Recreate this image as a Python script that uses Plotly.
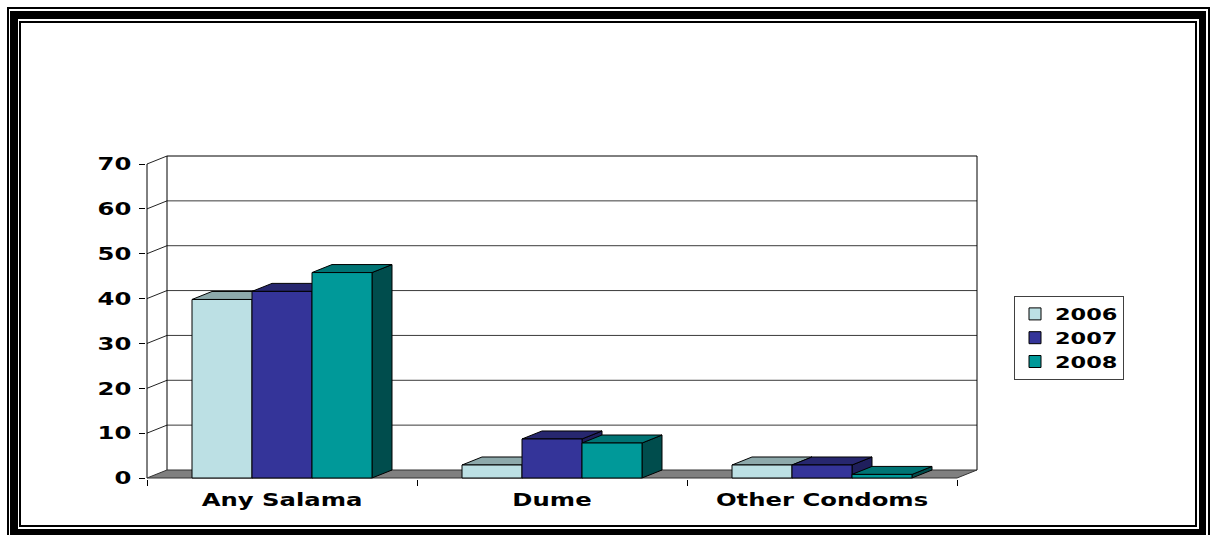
import plotly.graph_objects as go

# ---------------- data ----------------
categories = ["Any Salama", "Dume", "Other Condoms"]
years = ["2006", "2007", "2008"]
values_2006 = [39.8, 2.9, 2.9]
values_2007 = [41.6, 8.7, 2.9]
values_2008 = [45.8, 7.8, 0.8]
y_ticks = [0, 10, 20, 30, 40, 50, 60, 70]

series = [values_2006, values_2007, values_2008]

# ---------------- styling / geometry ----------------
front_colors = ["#BCE0E4", "#343499", "#009999"]
top_colors = ["#8DA9AB", "#27276F", "#007474"]
side_colors = ["#6E8587", "#1F1F5C", "#004D4D"]

W, H = 1211, 535
ML, MR, MT, MB = 146, 233, 150, 56
PW = W - ML - MR
PH = H - MT - MB
PX_X = 270.0            # pixels per category
PX_Y = 314.0 / 70.0     # pixels per value unit
X0_PX, Y0_PX = 147, 478 # pixel position of the front-left floor corner
xmin = -0.5 - (X0_PX - ML) / PX_X
xmax = xmin + PW / PX_X
ymin = -((H - MB) - Y0_PX) / PX_Y
ymax = ymin + PH / PX_Y
DX = 20.0 / PX_X        # depth offset (x)
DY = 8.0 / PX_Y         # depth offset (y)

BARGAP = 1.0 / 3.0
xs = list(range(len(categories)))
left = xs[0] - 0.5
right = xs[-1] + 0.5
ytop = y_ticks[-1]
FONT = dict(family="DejaVu Sans", size=18, color="black", weight="bold")
LFONT = dict(family="DejaVu Sans", size=16, color="black", weight="bold")

fig = go.Figure()

# ---------------- walls, floor, gridlines ----------------
gx, gy = [], []
for v in y_ticks[1:-1]:
    gx += [left + DX, right + DX, None]
    gy += [v + DY, v + DY, None]
fig.add_trace(go.Scatter(x=gx, y=gy, mode="lines", line=dict(color="#3a3a3a", width=1),
                         hoverinfo="skip", showlegend=False, zorder=-20))

sx, sy = [], []
for v in y_ticks[1:]:
    sx += [left, left + DX, None]
    sy += [v, v + DY, None]
fig.add_trace(go.Scatter(x=sx, y=sy, mode="lines", line=dict(color="#222222", width=1),
                         hoverinfo="skip", showlegend=False, zorder=-20))

# back wall outline + front axis line
fig.add_trace(go.Scatter(
    x=[left + DX, left + DX, right + DX, right + DX, None, left, left],
    y=[DY, ytop + DY, ytop + DY, DY, None, 0, ytop],
    mode="lines", line=dict(color="black", width=1),
    hoverinfo="skip", showlegend=False, zorder=-19))

# floor
fig.add_trace(go.Scatter(
    x=[left, right, right + DX, left + DX, left],
    y=[0, 0, DY, DY, 0],
    mode="lines", fill="toself", fillcolor="#808080",
    line=dict(color="#333333", width=1),
    hoverinfo="skip", showlegend=False, zorder=-18))

# ---------------- bars with 3D faces ----------------
gw = 1.0 - BARGAP
bw = gw / len(series)
for k, vals in enumerate(series):
    off = -gw / 2 + k * bw
    tx, ty, px_, py_ = [], [], [], []
    for c, v in zip(xs, vals):
        x0 = c + off
        x1 = x0 + bw
        tx += [x0, x1, x1 + DX, x0 + DX, x0, None]
        ty += [v, v, v + DY, v + DY, v, None]
        px_ += [x1, x1 + DX, x1 + DX, x1, x1, None]
        py_ += [0, DY, v + DY, v, 0, None]
    fig.add_trace(go.Scatter(x=px_, y=py_, mode="lines", fill="toself",
                             fillcolor=side_colors[k], line=dict(color="black", width=1),
                             hoverinfo="skip", showlegend=False, zorder=3 * k))
    fig.add_trace(go.Scatter(x=tx, y=ty, mode="lines", fill="toself",
                             fillcolor=top_colors[k], line=dict(color="black", width=1),
                             hoverinfo="skip", showlegend=False, zorder=3 * k + 1))
    fig.add_trace(go.Bar(x=xs, y=vals, name=years[k], width=bw, offset=off,
                         marker=dict(color=front_colors[k], line=dict(color="black", width=1)),
                         zorder=3 * k + 2))

# ---------------- frame ----------------
def px2paper_x(p):
    return (p - ML) / PW

def px2paper_y(p):
    return ((H - MB) - p) / PH

frame = [
    (7, 7, 1210, 545, "black"),
    (9, 9, 1208, 543, "white"),
    (10, 11, 1206, 537, "black"),
    (18, 19, 1199, 529, "white"),
    (19, 21, 1197, 527, "black"),
    (21, 23, 1195, 525, "white"),
]
shapes = []
for x0, y0, x1, y1, col in frame:
    shapes.append(dict(type="rect", xref="paper", yref="paper",
                       x0=px2paper_x(x0), x1=px2paper_x(x1),
                       y0=px2paper_y(y1), y1=px2paper_y(y0),
                       fillcolor=col, line=dict(width=0), layer="below"))

fig.update_layout(
    width=W, height=H,
    margin=dict(l=ML, r=MR, t=MT, b=MB, pad=0),
    paper_bgcolor="white", plot_bgcolor="rgba(0,0,0,0)",
    barmode="overlay",
    shapes=shapes,
    showlegend=True,
    legend=dict(x=px2paper_x(1014), y=px2paper_y(296), xanchor="left", yanchor="top",
                bgcolor="white", bordercolor="#404040", borderwidth=1,
                font=LFONT, itemwidth=30, tracegroupgap=0),
    xaxis=dict(range=[xmin, xmax], tickvals=xs, ticktext=categories, ticks="",
               showgrid=False, zeroline=False, showline=False, tickfont=FONT,
               ticklabelstandoff=8,
               minor=dict(tickvals=[x - 0.5 for x in xs] + [right], ticks="outside",
                          ticklen=6, tickcolor="black", tickwidth=1, showgrid=False)),
    yaxis=dict(range=[ymin, ymax], tickvals=y_ticks, ticks="outside", ticklen=6,
               tickcolor="black", tickwidth=1, showgrid=False, zeroline=False,
               showline=False, tickfont=FONT, ticklabelstandoff=4),
)

# widen the bold labels horizontally, like the stretched original picture
post = """
document.body.style.margin='0';
function widen(){
  var extra = 0;
  document.querySelectorAll('.xtick text, .ytick text, .legendtext').forEach(function(t){
    if (t.getAttribute('data-wide')) return;
    var f = t.classList.contains('legendtext') ? 1.4 : 1.35;
    var L = t.getComputedTextLength();
    t.setAttribute('textLength', L * f);
    t.setAttribute('lengthAdjust', 'spacingAndGlyphs');
    t.setAttribute('data-wide', '1');
    if (t.classList.contains('legendtext')) extra = Math.max(extra, L * (f - 1));
  });
  if (extra > 0) {
    document.querySelectorAll('.legend rect.bg').forEach(function(r){
      if (r.getAttribute('data-wide')) return;
      var w = parseFloat(r.getAttribute('width'));
      r.setAttribute('width', w + extra);
      r.setAttribute('data-wide', '1');
    });
    document.querySelectorAll('.legend [clip-path]').forEach(function(e){
      e.removeAttribute('clip-path');
    });
  }
}
widen();
setTimeout(widen, 30);
"""

fig.write_html("out.html", post_script=post, config={"displayModeBar": False})
